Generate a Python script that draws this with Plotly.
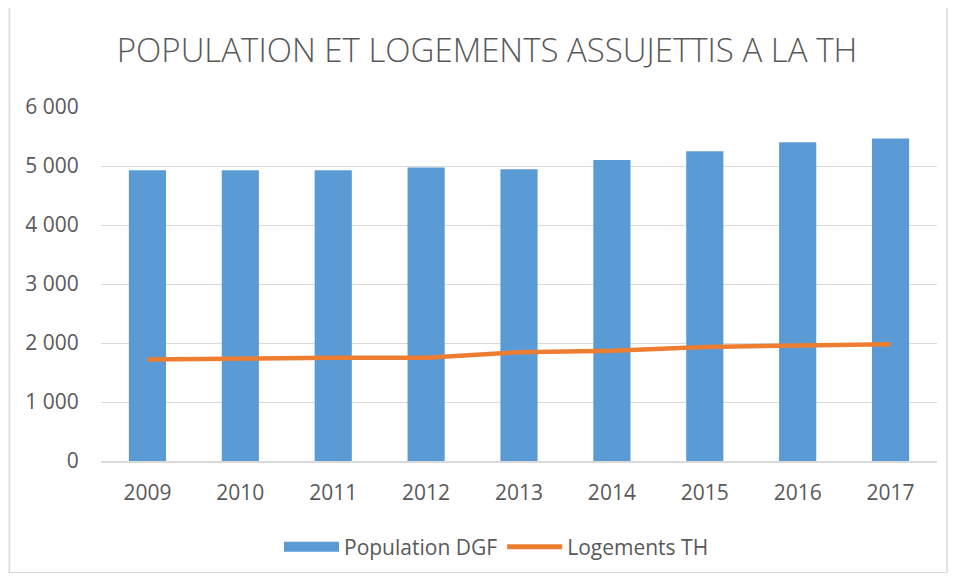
import plotly.graph_objects as go

years = ["2009", "2010", "2011", "2012", "2013", "2014", "2015", "2016", "2017"]
population_dgf = [4930, 4930, 4928, 4975, 4945, 5100, 5250, 5402, 5465]
logements_th = [1720, 1740, 1752, 1752, 1845, 1868, 1932, 1958, 1980]
y_ticks = [0, 1000, 2000, 3000, 4000, 5000, 6000]

# page body has an 8px margin; figure coordinates = screen - 8
W, H = 940, 565
L, R, T, B = 92.5, 10.5, 98.7, 112.3
pw = W - L - R
ph = H - T - B

BLUE = "#5B9BD5"
ORANGE = "#ED7D31"
GREY = "#595959"

fig = go.Figure()
fig.add_trace(go.Bar(x=years, y=population_dgf, name="Population DGF", showlegend=False,
                     marker=dict(color=BLUE, line=dict(width=0))))
fig.add_trace(go.Scatter(x=years, y=logements_th, name="Logements TH", mode="lines",
                         showlegend=False, line=dict(color=ORANGE, width=4.5)))
# legend entries
fig.add_trace(go.Scatter(x=[None], y=[None], name="Population DGF", mode="lines",
                         line=dict(color=BLUE, width=13)))
fig.add_trace(go.Scatter(x=[None], y=[None], name="Logements TH", mode="lines",
                         line=dict(color=ORANGE, width=5)))

fig.update_layout(
    width=W, height=H,
    margin=dict(l=L, r=R, t=T, b=B, autoexpand=False),
    paper_bgcolor="white", plot_bgcolor="white",
    separators=", ",
    bargap=0.6,
    title=dict(text="POPULATION ET LOGEMENTS ASSUJETTIS A LA TH",
               font=dict(family="Open Sans", size=33, color=GREY, weight=300),
               x=479 / W, xanchor="center", y=1 - 42 / H, yanchor="middle"),
    font=dict(family="Open Sans", size=21, color=GREY),
    showlegend=True,
    legend=dict(orientation="h", xref="container", x=488.5 / W, xanchor="center",
                yref="container", y=1 - 539 / H, yanchor="middle",
                font=dict(size=21, color=GREY), itemwidth=55, tracegroupgap=0),
    xaxis=dict(showgrid=False, showline=True, linecolor="#D9D9D9", linewidth=1.5,
               ticks="outside", ticklen=12, tickcolor="rgba(0,0,0,0)",
               tickfont=dict(size=21, color=GREY)),
    yaxis=dict(range=[0, 6000], tickvals=y_ticks, tickformat=",d", showgrid=True,
               gridcolor="#D9D9D9", gridwidth=1.2, zeroline=False, showline=False,
               ticks="outside", ticklen=17, tickcolor="rgba(0,0,0,0)",
               tickfont=dict(size=21, color=GREY)),
    shapes=[dict(type="rect", xref="paper", yref="paper",
                 x0=(0.75 - L) / pw, x1=(939.5 - L) / pw,
                 y0=-(564.5 - (H - B)) / ph, y1=(H - B + 20) / ph,
                 line=dict(color="#D9D9D9", width=1.5), fillcolor="rgba(0,0,0,0)")],
)

fig.write_html("out.html")
